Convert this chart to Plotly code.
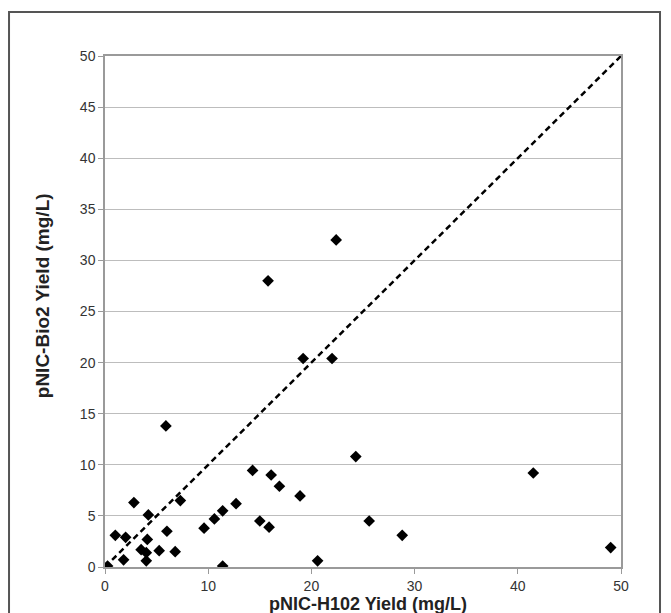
import plotly.graph_objects as go

# Data
h102_yield = [0.25, 1.0, 1.8, 2.0, 2.8, 3.5, 4.0, 4.0, 4.1, 4.2, 5.25, 5.9, 6.0, 6.8, 7.3,
              9.6, 10.6, 11.4, 11.4, 12.7, 14.3, 15.0, 15.9, 16.1, 16.9, 15.8, 19.2,
              18.9, 20.6, 22.0, 22.4, 24.3, 25.6, 28.8, 41.5, 49.0]
bio2_yield = [0.1, 3.1, 0.7, 2.9, 6.3, 1.7, 1.4, 0.6, 2.7, 5.1, 1.6, 13.8, 3.5, 1.5, 6.5,
              3.8, 4.7, 5.5, 0.1, 6.2, 9.45, 4.5, 3.9, 9.0, 7.9, 28.0, 20.4,
              6.95, 0.6, 20.4, 32.0, 10.8, 4.5, 3.1, 9.2, 1.9]
diag_x = [0, 50]
diag_y = [0, 50]

x_title = "pNIC-H102 Yield (mg/L)"
y_title = "pNIC-Bio2 Yield (mg/L)"

fig = go.Figure()
fig.add_trace(go.Scatter(x=diag_x, y=diag_y, mode="lines",
                         line=dict(color="black", width=2.5, dash="6px,4px"),
                         hoverinfo="skip", showlegend=False))
fig.add_trace(go.Scatter(x=h102_yield, y=bio2_yield, mode="markers",
                         marker=dict(symbol="diamond", size=9, color="black"),
                         showlegend=False))

font_family = "Liberation Sans, Arial, sans-serif"
axis_common = dict(range=[0, 50], tick0=0, zeroline=False,
                   showline=True, linecolor="#9a9a9a", linewidth=1.5, mirror=True,
                   ticks="outside", ticklen=5, tickcolor="#9a9a9a",
                   tickfont=dict(size=14, color="#333333"))
fig.update_layout(
    width=671, height=613,
    margin=dict(l=105, r=50, t=56, b=46),
    paper_bgcolor="white", plot_bgcolor="white",
    font=dict(family=font_family, color="#333333", size=14),
    xaxis=dict(dtick=10, showgrid=False, **axis_common),
    yaxis=dict(dtick=5, showgrid=True, gridcolor="#bdbdbd", gridwidth=1.3, **axis_common),
    shapes=[dict(type="rect", xref="paper", yref="paper",
                 x0=-0.186, x1=1.0756, y0=-0.2, y1=1.086,
                 line=dict(color="#555555", width=2), layer="below")],
    annotations=[
        dict(text="<b>" + x_title + "</b>", xref="paper", yref="paper",
             x=0.51, y=-0.073, xanchor="center", yanchor="middle", showarrow=False,
             font=dict(size=18, color="#222222")),
        dict(text="<b>" + y_title + "</b>", xref="paper", yref="paper",
             x=-0.122, y=0.53, xanchor="center", yanchor="middle", showarrow=False,
             textangle=-90, font=dict(size=19, color="#222222")),
    ],
)

fig.write_html(
    "out.html",
    config={"displayModeBar": False},
    post_script="document.body.style.margin='0';"
                "document.documentElement.style.overflow='hidden';"
                "document.body.style.overflow='hidden';",
)
